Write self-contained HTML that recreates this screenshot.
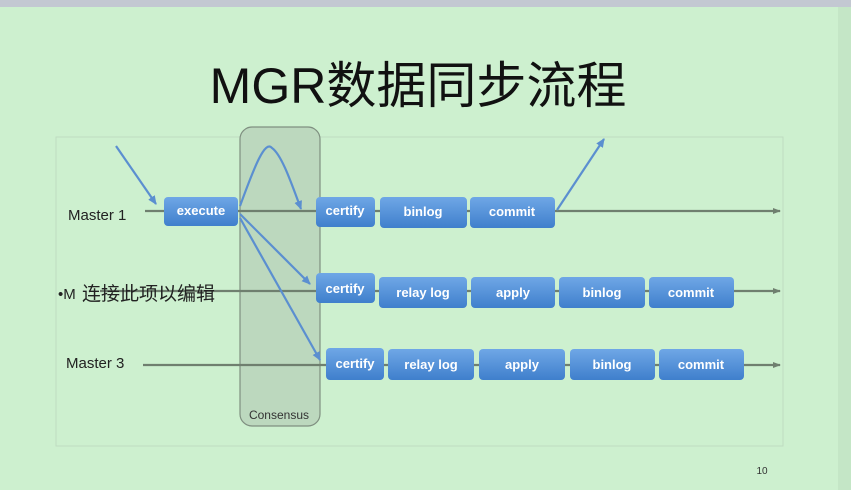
<!DOCTYPE html>
<html><head><meta charset="utf-8"><style>
html,body{margin:0;padding:0;width:851px;height:490px;overflow:hidden;background:#cdf0cf}
svg{display:block}
</style></head><body>
<svg width="851" height="490" viewBox="0 0 851 490" xmlns="http://www.w3.org/2000/svg">
<defs>
<linearGradient id="bg" x1="0" y1="0" x2="0" y2="1"><stop offset="0" stop-color="#6fa7e6"/><stop offset="1" stop-color="#3f7fcc"/></linearGradient>
<marker id="ag" markerWidth="8" markerHeight="8" refX="7" refY="4" orient="auto" markerUnits="userSpaceOnUse"><path d="M0,1 L8,4 L0,7 z" fill="#6f7f6f"/></marker>
<marker id="ab" markerWidth="9" markerHeight="9" refX="8" refY="4.5" orient="auto" markerUnits="userSpaceOnUse"><path d="M0,0.5 L9,4.5 L0,8.5 z" fill="#5b8fd0"/></marker>
</defs>
<rect x="0" y="0" width="851" height="7" fill="#c3c8d2"/>
<rect x="838" y="7" width="13" height="483" fill="#c4e6c6"/>
<text x="418" y="103" text-anchor="middle" font-family="'Liberation Sans','Noto Sans CJK SC',sans-serif" font-size="50" fill="#111">MGR数据同步流程</text>
<rect x="56" y="137" width="727" height="309" fill="#cdf0cf" stroke="#bfdcc1" stroke-width="1"/>
<rect x="240" y="127" width="80" height="299" rx="12" fill="#bcd8be" stroke="#7f8f80" stroke-width="1.2"/>
<text x="279" y="419" text-anchor="middle" font-family="'Liberation Sans',sans-serif" font-size="12" fill="#333">Consensus</text>
<g stroke="#6f7f6f" stroke-width="2.2" fill="none">
<line x1="145" y1="211" x2="780" y2="211" marker-end="url(#ag)"/>
<line x1="100" y1="291" x2="780" y2="291" marker-end="url(#ag)"/>
<line x1="143" y1="365" x2="780" y2="365" marker-end="url(#ag)"/>
</g>
<g stroke="#5b8fd0" stroke-width="2.2" fill="none">
<line x1="116" y1="146" x2="156" y2="204" marker-end="url(#ab)"/>
<path d="M240,206 C255,165 265,140 272,148 C282,155 292,185 301,209" marker-end="url(#ab)"/>
<line x1="240" y1="214" x2="310" y2="284" marker-end="url(#ab)"/>
<line x1="240" y1="218" x2="320" y2="360" marker-end="url(#ab)"/>
<line x1="557" y1="210" x2="604" y2="139" marker-end="url(#ab)"/>
</g>
<g font-family="'Liberation Sans',sans-serif" font-size="13" font-weight="bold" fill="#fff" text-anchor="middle">
<rect x="164" y="197" width="74" height="29" rx="4" fill="url(#bg)"/><text x="201" y="215">execute</text>
<rect x="316" y="197" width="59" height="30" rx="4" fill="url(#bg)"/><text x="345" y="215">certify</text>
<rect x="380" y="197" width="87" height="31" rx="4" fill="url(#bg)"/><text x="423" y="216">binlog</text>
<rect x="470" y="197" width="85" height="31" rx="4" fill="url(#bg)"/><text x="512" y="216">commit</text>
<rect x="316" y="273" width="59" height="30" rx="4" fill="url(#bg)"/><text x="345" y="293">certify</text>
<rect x="379" y="277" width="88" height="31" rx="4" fill="url(#bg)"/><text x="423" y="297">relay log</text>
<rect x="471" y="277" width="84" height="31" rx="4" fill="url(#bg)"/><text x="513" y="297">apply</text>
<rect x="559" y="277" width="86" height="31" rx="4" fill="url(#bg)"/><text x="602" y="297">binlog</text>
<rect x="649" y="277" width="85" height="31" rx="4" fill="url(#bg)"/><text x="691" y="297">commit</text>
<rect x="326" y="348" width="58" height="32" rx="4" fill="url(#bg)"/><text x="355" y="368">certify</text>
<rect x="388" y="349" width="86" height="31" rx="4" fill="url(#bg)"/><text x="431" y="369">relay log</text>
<rect x="479" y="349" width="86" height="31" rx="4" fill="url(#bg)"/><text x="522" y="369">apply</text>
<rect x="570" y="349" width="85" height="31" rx="4" fill="url(#bg)"/><text x="612" y="369">binlog</text>
<rect x="659" y="349" width="85" height="31" rx="4" fill="url(#bg)"/><text x="701" y="369">commit</text>
</g>
<g font-family="'Liberation Sans',sans-serif" font-size="15" fill="#222">
<text x="68" y="220">Master 1</text>
<text x="66" y="368">Master 3</text>
<text x="58" y="299">•M</text>
</g>
<text x="82" y="300" font-family="'Liberation Sans','Noto Sans CJK SC',sans-serif" font-size="19" fill="#222">连接此项以编辑</text>
<text x="762" y="474" text-anchor="middle" font-family="'Liberation Sans',sans-serif" font-size="10" fill="#333">10</text>
</svg>
</body></html>
